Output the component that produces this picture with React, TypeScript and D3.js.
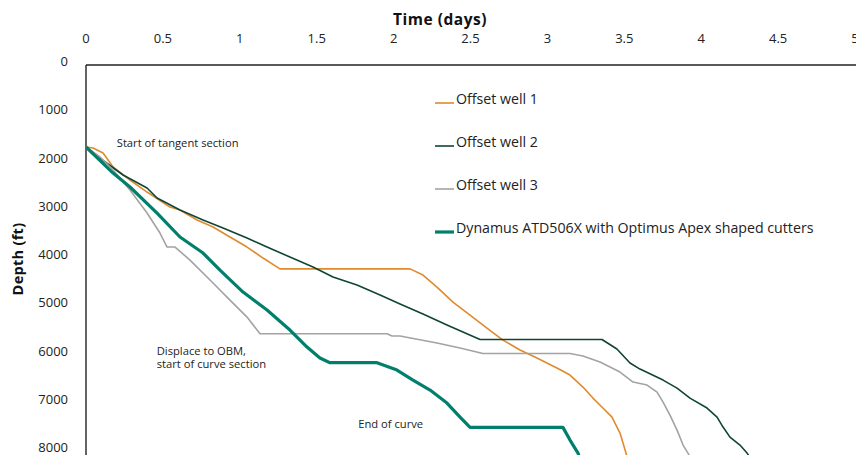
import React from "react";
import * as d3 from "d3";

type Pt = [number, number];

const xTicks = [0, 0.5, 1, 1.5, 2, 2.5, 3, 3.5, 4, 4.5, 5];
const yTicks = [0, 1000, 2000, 3000, 4000, 5000, 6000, 7000, 8000];

const seriesNames = [
  "Offset well 1",
  "Offset well 2",
  "Offset well 3",
  "Dynamus ATD506X with Optimus Apex shaped cutters",
];
const seriesColors = ["#E08A2E", "#0F4535", "#A3A3A3", "#00806C"];
const seriesWidths = [1.6, 1.6, 1.6, 3.2];

const well1: Pt[] = [
  [0, 1700], [0.046, 1720], [0.111, 1824], [0.176, 2114], [0.286, 2384], [0.397, 2633],
  [0.546, 2944], [0.611, 3006], [0.722, 3213], [0.826, 3358], [0.936, 3566], [1.047, 3773],
  [1.151, 4001], [1.261, 4225], [2.107, 4225], [2.191, 4353], [2.282, 4602], [2.386, 4913],
  [2.497, 5183], [2.607, 5452], [2.711, 5701], [2.822, 5908], [2.932, 6074], [3.062, 6281],
  [3.147, 6426], [3.231, 6675], [3.296, 6903], [3.361, 7110], [3.42, 7297], [3.472, 7629],
  [3.511, 8043], [3.52, 8150],
];

const well2: Pt[] = [
  [0, 1700], [0.12, 2000], [0.241, 2280], [0.397, 2550], [0.462, 2757], [0.611, 3006],
  [0.761, 3213], [0.891, 3379], [1.047, 3586], [1.177, 3773], [1.326, 3980], [1.476, 4187],
  [1.606, 4395], [1.762, 4561], [1.912, 4768], [2.042, 4954], [2.191, 5162], [2.347, 5390],
  [2.562, 5690], [3.355, 5690], [3.452, 5887], [3.537, 6177], [3.602, 6302], [3.752, 6530],
  [3.843, 6696], [3.927, 6903], [4.038, 7110], [4.103, 7297], [4.142, 7504], [4.187, 7712],
  [4.252, 7877], [4.298, 8043], [4.32, 8150],
];

const well3: Pt[] = [
  [0, 1700], [0.091, 1907], [0.176, 2177], [0.286, 2591], [0.397, 3068], [0.481, 3483],
  [0.527, 3773], [0.579, 3773], [0.676, 4043], [0.826, 4519], [0.936, 4872], [1.047, 5224],
  [1.131, 5570], [1.957, 5570], [1.99, 5618], [2.042, 5618], [2.282, 5763], [2.432, 5867],
  [2.581, 5980], [3.147, 5980], [3.231, 6032], [3.342, 6157], [3.472, 6364], [3.557, 6571],
  [3.648, 6633], [3.713, 6779], [3.752, 6986], [3.797, 7255], [3.843, 7567], [3.882, 7877],
  [3.914, 8043], [3.93, 8150],
];

const dynamus: Pt[] = [
  [0, 1700], [0.176, 2239], [0.286, 2529], [0.462, 3068], [0.611, 3565], [0.761, 3897],
  [0.871, 4250], [1.021, 4706], [1.177, 5079], [1.326, 5493], [1.437, 5845], [1.521, 6074],
  [1.586, 6170], [1.892, 6170], [2.022, 6323], [2.126, 6530], [2.237, 6737], [2.347, 7007],
  [2.432, 7297], [2.497, 7510], [3.101, 7510], [3.147, 7774], [3.199, 8043], [3.21, 8150],
];

const seriesData = [well1, well2, well3, dynamus];

const annotations = [
  { lines: ["Start of tangent section"], t: 0.2, d: 1700 },
  { lines: ["Displace to OBM,", "start of curve section"], t: 0.46, d: 6000 },
  { lines: ["End of curve"], t: 1.77, d: 7520 },
];

const W = 856;
const H = 455;
const FONT = "'Open Sans', 'DejaVu Sans', sans-serif";

export default function App() {
  const x = d3.scaleLinear().domain([0, 5]).range([86, 855]);
  const y = d3.scaleLinear().domain([0, 8000]).range([65, 451]);
  const line = d3
    .line<Pt>()
    .x((p) => x(p[0]))
    .y((p) => y(p[1]));

  const legendX = 435;
  const legendY0 = 99;
  const legendStep = 43;

  return (
    <svg
      width={W}
      height={H}
      style={{ position: "absolute", left: 0, top: 0, background: "#fff", fontFamily: FONT }}
    >
      <defs>
        <clipPath id="plotclip">
          <rect x={86} y={65} width={W - 86} height={H - 65} />
        </clipPath>
      </defs>
      <rect x={0} y={0} width={W} height={H} fill="#fff" />

      <text x={440} y={25} textAnchor="middle" fontSize={15.5} fontWeight={700} letterSpacing={0.5} fill="#111">
        Time (days)
      </text>
      {xTicks.map((t) => (
        <text key={t} x={x(t)} y={43} textAnchor="middle" fontSize={13} fill="#222">
          {t}
        </text>
      ))}

      {yTicks.map((v) => (
        <text key={v} x={68} y={y(v) + 1} textAnchor="end" fontSize={13} fill="#222">
          {v}
        </text>
      ))}
      <text
        transform={`translate(23,259) rotate(-90)`}
        textAnchor="middle"
        fontSize={14.5}
        fontWeight={700}
        letterSpacing={0.3}
        fill="#111"
      >
        Depth (ft)
      </text>

      <line x1={86} y1={65} x2={W} y2={65} stroke="#222" strokeWidth={1.4} />
      <line x1={86} y1={65} x2={86} y2={H} stroke="#222" strokeWidth={1.4} />

      <g clipPath="url(#plotclip)">
        {seriesData.map((s, i) => (
          <path
            key={i}
            d={line(s) || ""}
            fill="none"
            stroke={seriesColors[i]}
            strokeWidth={seriesWidths[i]}
            strokeLinejoin="round"
          />
        ))}
      </g>

      {seriesNames.map((n, i) => (
        <g key={n}>
          <line
            x1={legendX}
            x2={legendX + 19}
            y1={legendY0 + i * legendStep + 4}
            y2={legendY0 + i * legendStep + 4}
            stroke={seriesColors[i]}
            strokeWidth={seriesWidths[i]}
          />
          <text x={legendX + 21} y={legendY0 + i * legendStep + 5} fontSize={14.2} fill="#222">
            {n}
          </text>
        </g>
      ))}

      {annotations.map((a, i) =>
        a.lines.map((l, j) => (
          <text key={`${i}-${j}`} x={x(a.t)} y={y(a.d) + j * 13} fontSize={11.2} fill="#222">
            {l}
          </text>
        ))
      )}
    </svg>
  );
}
